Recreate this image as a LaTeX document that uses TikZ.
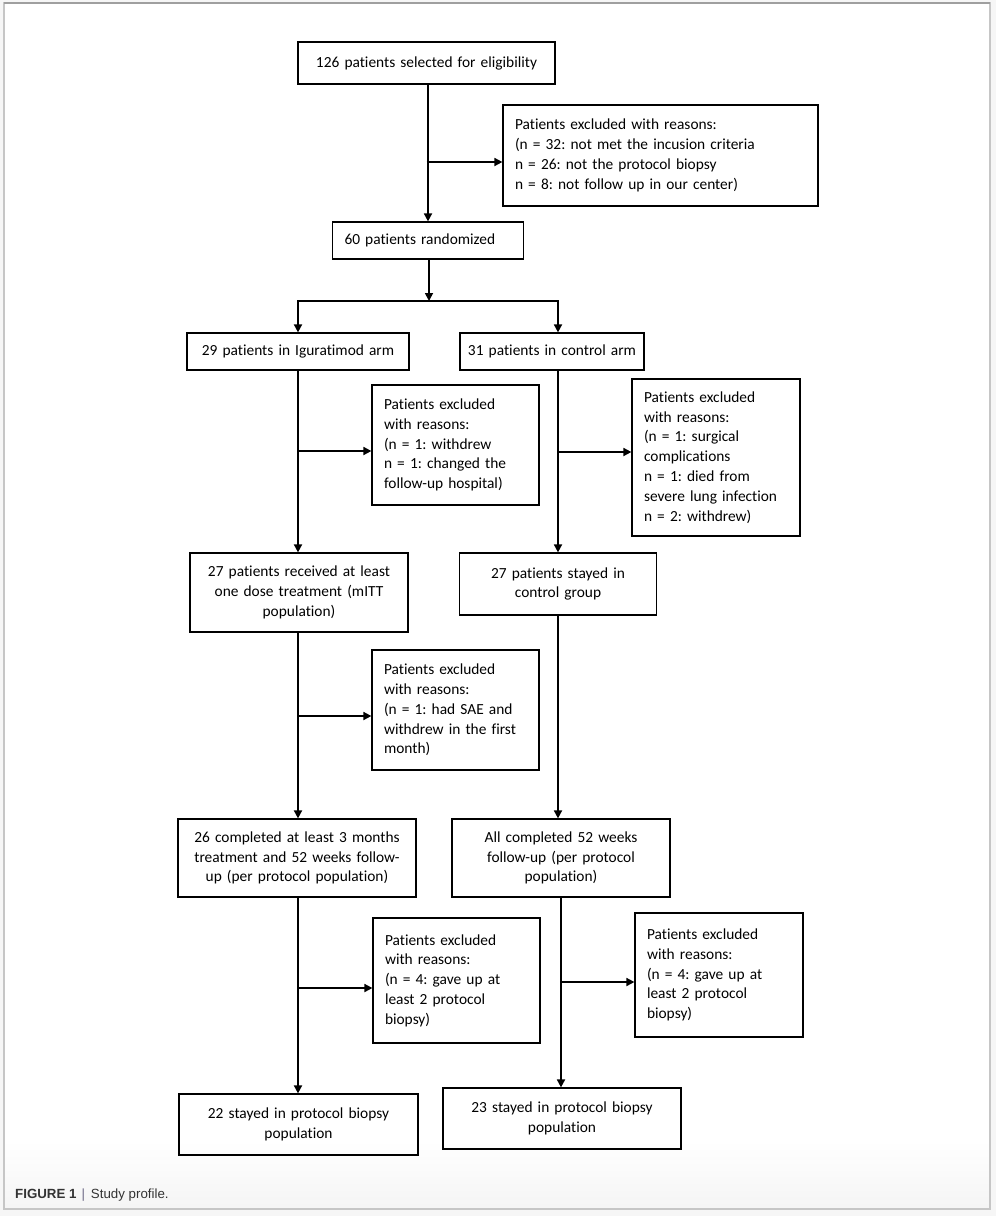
\documentclass[tikz,border=0pt]{standalone}
\usepackage{fontspec}
\setmainfont{Carlito}[Ligatures=NoCommon]
\newfontfamily\capfont{Liberation Sans}
\usetikzlibrary{arrows.meta,positioning}
\definecolor{capgray}{HTML}{333333}
\definecolor{bargray}{HTML}{6E6A86}
\frenchspacing

\begin{document}
\begin{tikzpicture}[x=1pt,y=-1pt,
	flow box/.style={draw,line width=1.2pt,inner sep=0pt,align=center,font=\fontsize{15.4}{19.8}\selectfont},
	excl box/.style={flow box,align=left},
	flow arrow/.style={line width=1.7pt,-{Triangle[length=8pt,width=8pt]}}]
	% page and frame
	\useasboundingbox (0,0) rectangle (996,1216);
	\fill[gray!7] (0,0) rectangle (996,1216);
	\fill[white] (4,3) rectangle (990,1209);
	\shade[top color=white,bottom color=gray!8] (5,1140) rectangle (989,1208);
	\draw[gray!45,line width=1.2pt] (4,3) rectangle (990,1209);
	\draw[gray!75,line width=1.4pt] (4,3) -- (990,3);
	% boxes
	\node[flow box,minimum width=257,text width=237,minimum height=42] (1) at (426.5,63) {126 patients selected for eligibility};
	\node[excl box,minimum width=315,text width=291,minimum height=101] (2) at (660.5,155.5) {Patients excluded with reasons:\\(n = 32: not met the incusion criteria\\n = 26: not the protocol biopsy\\n = 8: not follow up in our center)};
	\node[excl box,minimum width=191,text width=167,minimum height=37] (3) at (428,240.5) {60 patients randomized};
	\node[flow box,minimum width=222,text width=210,minimum height=37] (4) at (298,351.5) {29 patients in Iguratimod arm};
	\node[flow box,minimum width=184,text width=176,minimum height=37] (5) at (552,351.5) {31 patients in control arm};
	\node[excl box,minimum width=167,text width=143,minimum height=120] (6) at (455.5,445) {Patients excluded\\with reasons:\\(n = 1: withdrew\\n = 1: changed the\\follow-up hospital)};
	\node[excl box,minimum width=168,text width=144,minimum height=157] (7) at (716,457.5) {Patients excluded\\with reasons:\\(n = 1: surgical\\complications\\n = 1: died from\\severe lung infection\\n = 2: withdrew)};
	\node[flow box,minimum width=218,text width=206,minimum height=79] (8) at (299,592.5) {27 patients received at least\\one dose treatment (mITT\\population)};
	\node[flow box,minimum width=197,text width=185,minimum height=62] (9) at (558,584) {27 patients stayed in\\control group};
	\node[excl box,minimum width=167,text width=143,minimum height=120] (10) at (455.5,710) {Patients excluded\\with reasons:\\(n = 1: had SAE and\\withdrew in the first\\month)};
	\node[flow box,minimum width=238,text width=230,minimum height=78] (11) at (297,858) {26 completed at least 3 months\\treatment and 52 weeks follow-\\up (per protocol population)};
	\node[flow box,minimum width=218,text width=206,minimum height=78] (12) at (561,858) {All completed 52 weeks\\follow-up (per protocol\\population)};
	\node[excl box,minimum width=167,text width=143,minimum height=125] (13) at (456.5,980.5) {Patients excluded\\with reasons:\\(n = 4: gave up at\\least 2 protocol\\biopsy)};
	\node[excl box,minimum width=168,text width=144,minimum height=124] (14) at (719,975) {Patients excluded\\with reasons:\\(n = 4: gave up at\\least 2 protocol\\biopsy)};
	\node[flow box,minimum width=239,text width=227,minimum height=61] (15) at (298.5,1124.5) {22 stayed in protocol biopsy\\population};
	\node[flow box,minimum width=238,text width=226,minimum height=61] (16) at (562,1118.5) {23 stayed in protocol biopsy\\population};
	% connectors
	\coordinate (s) at (429,301);
	\draw[flow arrow] (1.south -| 3.north) -- (3.north);
	\draw[flow arrow] (1.south |- 0,162) -- (2.west |- 0,162);
	\draw[flow arrow] (3.south -| s) -- (s);
	\draw[flow arrow] (s) -| (4.north);
	\draw[flow arrow] (s) -| (9.north |- 5.north);
	\draw[flow arrow] (4.south) -- (4.south |- 8.north);
	\draw[flow arrow] (4.south |- 0,451) -- (6.west |- 0,451);
	\draw[flow arrow] (9.north |- 5.south) -- (9.north);
	\draw[flow arrow] (9.north |- 0,452) -- (7.west |- 0,452);
	\draw[flow arrow] (4.south |- 8.south) -- (4.south |- 11.north);
	\draw[flow arrow] (4.south |- 0,716) -- (10.west |- 0,716);
	\draw[flow arrow] (9.south) -- (9.south |- 12.north);
	\draw[flow arrow] (4.south |- 11.south) -- (4.south |- 15.north);
	\draw[flow arrow] (4.south |- 0,988) -- (13.west |- 0,988);
	\draw[flow arrow] (12.south) -- (12.south |- 16.north);
	\draw[flow arrow] (12.south |- 0,982) -- (14.west |- 0,982);
	% caption
	\node[anchor=base west,inner sep=0pt,text=capgray,font=\capfont\fontsize{13.3}{16}\selectfont] (cap) at (15,1198) {\textbf{FIGURE 1}\hspace{5pt}\textcolor{bargray}{|}\hspace{6pt}Study profile.};
\end{tikzpicture}
\end{document}
